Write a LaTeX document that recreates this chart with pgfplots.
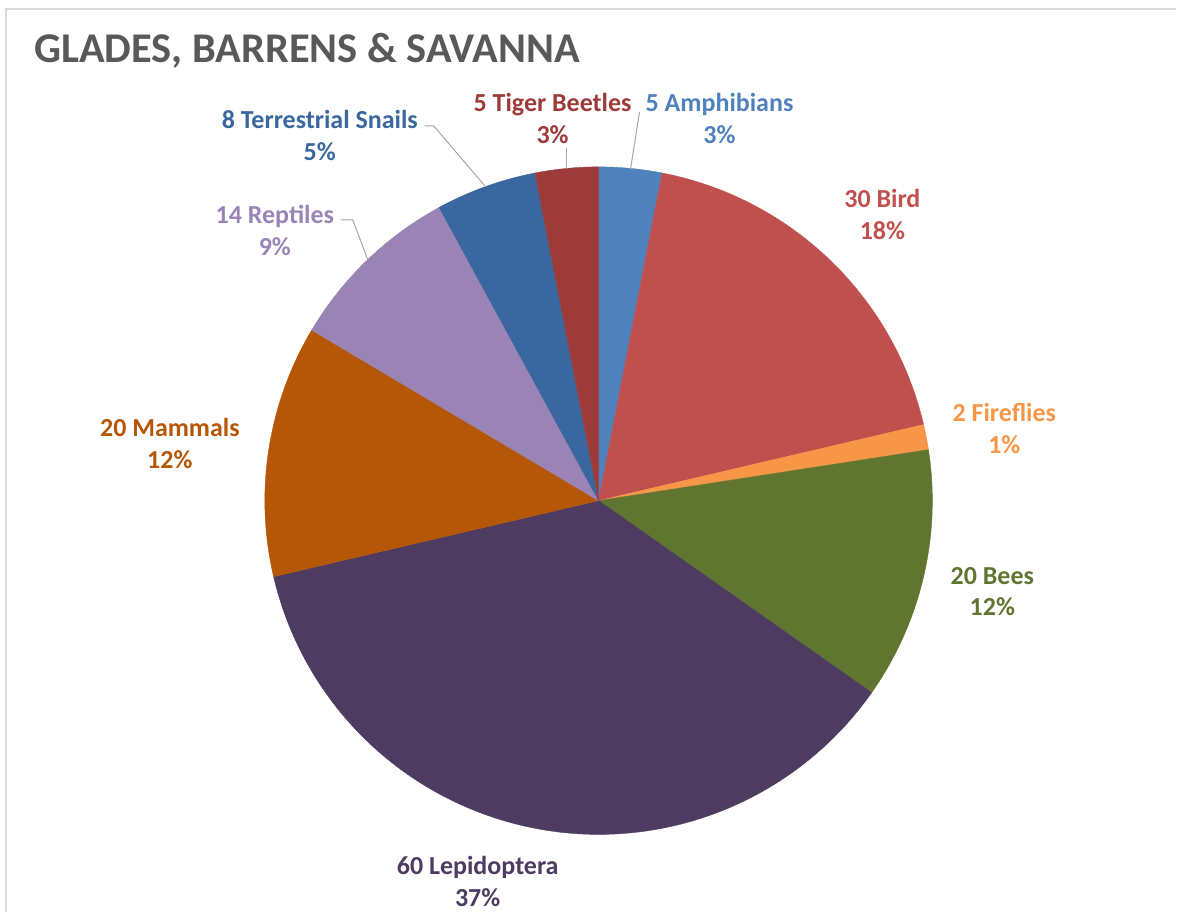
\documentclass[border=0pt]{standalone}
\usepackage{pgfplots}
\pgfplotsset{compat=1.18}
\usepackage{pgfplotstable}
\usepackage{fontspec}
\setmainfont{Carlito}

\definecolor{cAmph}{HTML}{4F81BD}
\definecolor{cBird}{HTML}{C0504D}
\definecolor{cFire}{HTML}{F79646}
\definecolor{cBees}{HTML}{5F7530}
\definecolor{cLepi}{HTML}{4D3B62}
\definecolor{cMamm}{HTML}{B65708}
\definecolor{cRept}{HTML}{9A84B6}
\definecolor{cSnai}{HTML}{3A679F}
\definecolor{cTige}{HTML}{9D3B38}
\definecolor{cTitle}{HTML}{595959}
\definecolor{cLead}{HTML}{A6A6A6}
\definecolor{cFrame}{HTML}{D9D9D9}

% counts per group (clockwise from 12 o'clock)
\pgfplotstableread{
group value
Amphibians 5
Bird 30
Fireflies 2
Bees 20
Lepidoptera 60
Mammals 20
Reptiles 14
Snails 8
TigerBeetles 5
}\piedata

\newcommand{\getv}[2]{\pgfplotstablegetelem{#1}{value}\of\piedata\edef#2{\pgfplotsretval}}
\getv{0}{\vA}\getv{1}{\vB}\getv{2}{\vC}\getv{3}{\vD}\getv{4}{\vE}
\getv{5}{\vF}\getv{6}{\vG}\getv{7}{\vH}\getv{8}{\vI}
\pgfmathsetmacro{\total}{\vA+\vB+\vC+\vD+\vE+\vF+\vG+\vH+\vI}
\pgfmathsetmacro{\cA}{0}
\pgfmathsetmacro{\cB}{\cA+\vA}
\pgfmathsetmacro{\cC}{\cB+\vB}
\pgfmathsetmacro{\cD}{\cC+\vC}
\pgfmathsetmacro{\cE}{\cD+\vD}
\pgfmathsetmacro{\cF}{\cE+\vE}
\pgfmathsetmacro{\cG}{\cF+\vF}
\pgfmathsetmacro{\cH}{\cG+\vG}
\pgfmathsetmacro{\cI}{\cH+\vH}
\pgfmathsetmacro{\cJ}{\cI+\vI}
\newcommand{\ang}[2]{\pgfmathsetmacro{#2}{90-(#1/\total)*360}}
\ang{\cA}{\aA}\ang{\cB}{\aB}\ang{\cC}{\aC}\ang{\cD}{\aD}\ang{\cE}{\aE}
\ang{\cF}{\aF}\ang{\cG}{\aG}\ang{\cH}{\aH}\ang{\cI}{\aI}\ang{\cJ}{\aJ}

\def\cx{599}
\def\cy{412}
\def\rr{334}

\newcommand{\slice}[3]{%
  \addplot[fill=#3, draw=#3, line width=0.2pt, domain=#2:#1, samples=120, variable=\t]
    ({\cx+\rr*cos(\t)},{\cy+\rr*sin(\t)}) -- (axis cs:\cx,\cy) -- cycle;}

\begin{document}
\begin{tikzpicture}
\begin{axis}[
  width=588.5pt, height=456.5pt, scale only axis,
  xmin=0, xmax=1177, ymin=0, ymax=913,
  hide axis, clip=false,
]
\path (axis cs:0,0) rectangle (axis cs:1177,913);
\draw[cFrame, line width=0.8pt] (axis cs:6,0) -- (axis cs:6,904) -- (axis cs:1177,904);

\slice{\aA}{\aB}{cAmph}
\slice{\aB}{\aC}{cBird}
\slice{\aC}{\aD}{cFire}
\slice{\aD}{\aE}{cBees}
\slice{\aE}{\aF}{cLepi}
\slice{\aF}{\aG}{cMamm}
\slice{\aG}{\aH}{cRept}
\slice{\aH}{\aI}{cSnai}
\slice{\aI}{\aJ}{cTige}

% title
\node[anchor=west, text=cTitle, font=\fontsize{21.2}{25}\selectfont\bfseries, inner sep=0pt]
  at (axis cs:34,862) {GLADES, BARRENS \& SAVANNA};

% leader lines
\draw[cLead, line width=0.5pt] (axis cs:425,787) -- (axis cs:434,787) -- (axis cs:486,726);
\draw[cLead, line width=0.5pt] (axis cs:567,765) -- (axis cs:567,744);
\draw[cLead, line width=0.5pt] (axis cs:640,801) -- (axis cs:631,744);
\draw[cLead, line width=0.5pt] (axis cs:341,693) -- (axis cs:353,693) -- (axis cs:368,653);

% labels
\tikzset{lbl/.style={align=center, font=\fontsize{13}{16}\selectfont\bfseries, inner sep=0pt}}
\node[lbl, text=cSnai] at (axis cs:320,777) {8 Terrestrial Snails\\5\%};
\node[lbl, text=cTige] at (axis cs:553,794) {5 Tiger Beetles\\3\%};
\node[lbl, text=cAmph] at (axis cs:720,794) {5 Amphibians\\3\%};
\node[lbl, text=cBird] at (axis cs:883,698) {30 Bird\\18\%};
\node[lbl, text=cFire] at (axis cs:1005,484) {2 Fireflies\\1\%};
\node[lbl, text=cBees] at (axis cs:993,321) {20 Bees\\12\%};
\node[lbl, text=cLepi] at (axis cs:478,31) {60 Lepidoptera\\37\%};
\node[lbl, text=cMamm] at (axis cs:170,469) {20 Mammals\\12\%};
\node[lbl, text=cRept] at (axis cs:275,682) {14 Reptiles\\9\%};
\end{axis}
\end{tikzpicture}
\end{document}
